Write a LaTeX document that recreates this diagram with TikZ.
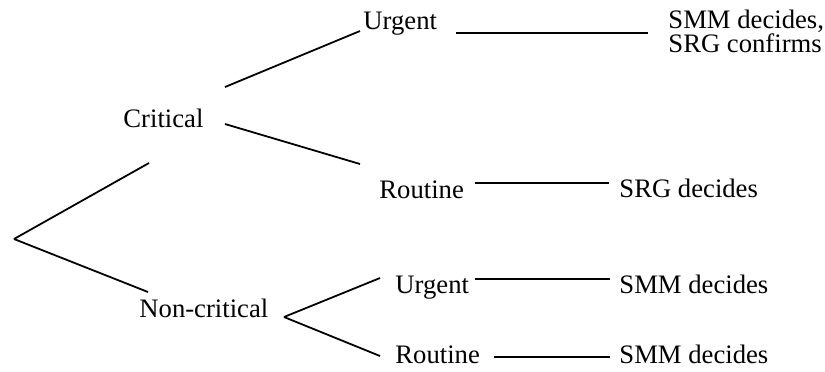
\documentclass[tikz,border=0pt]{standalone}
\usepackage{fontspec}
\setmainfont{Liberation Serif}
\usepackage{tikz}
\newcommand{\scl}[0] {0.45pt}

\begin{document}
\begin{tikzpicture}[x=\scl, y=-\scl,
        lbl/.style={anchor=base west, inner sep=0pt, font=\fontsize{12}{10.8}\selectfont},
        branch/.style={-, line width=0.8pt}]
        \useasboundingbox (0,0) rectangle (825,371);
        %root
        \coordinate (root) at (14,239);
        %critical and its adjacents
        \node[lbl] (crit) at (123,127)     {Critical};
        \coordinate (crit_in) at (149,163);
        \coordinate (crit_up) at (225,87);
        \coordinate (crit_dn) at (225,124);
        \node[lbl] (urg_a) at (363,29)     {Urgent};
        \coordinate (urg_a_in) at (360,31);
        \coordinate (urg_a_out) at (456,33);
        \node[lbl, align=left] (smm_a) at (668,52)     {SMM decides,\\SRG confirms};
        \coordinate (smm_a_in) at (648,33);
        \node[lbl] (rout_a) at (379,198)     {Routine};
        \coordinate (rout_a_in) at (360,164);
        \coordinate (rout_a_out) at (475,183);
        \node[lbl] (srg) at (619,197)     {SRG decides};
        \coordinate (srg_in) at (609,183);
        %non-critical and its adjacents
        \node[lbl] (nonc) at (139,317)     {Non-critical};
        \coordinate (nonc_in) at (148,292);
        \coordinate (nonc_out) at (284,317);
        \node[lbl] (urg_b) at (395,293)     {Urgent};
        \coordinate (urg_b_in) at (380,278);
        \coordinate (urg_b_out) at (475,279);
        \node[lbl] (smm_b) at (619,293)     {SMM decides};
        \coordinate (smm_b_in) at (610,279);
        \node[lbl] (rout_b) at (395,363)     {Routine};
        \coordinate (rout_b_in) at (380,356);
        \coordinate (rout_b_out) at (494,357);
        \node[lbl] (smm_c) at (619,363)     {SMM decides};
        \coordinate (smm_c_in) at (610,357);
        %connections from root
        \path[branch] (crit_in) edge (root);
        \path[branch] (root) edge (nonc_in);
        %branches of critical
        \path[branch] (crit_up) edge (urg_a_in);
        \path[branch] (crit_dn) edge (rout_a_in);
        \path[branch] (urg_a_out) edge (smm_a_in);
        \path[branch] (rout_a_out) edge (srg_in);
        %branches of non-critical
        \path[branch] (nonc_out) edge (urg_b_in);
        \path[branch] (nonc_out) edge (rout_b_in);
        \path[branch] (urg_b_out) edge (smm_b_in);
        \path[branch] (rout_b_out) edge (smm_c_in);
\end{tikzpicture}
\end{document}
